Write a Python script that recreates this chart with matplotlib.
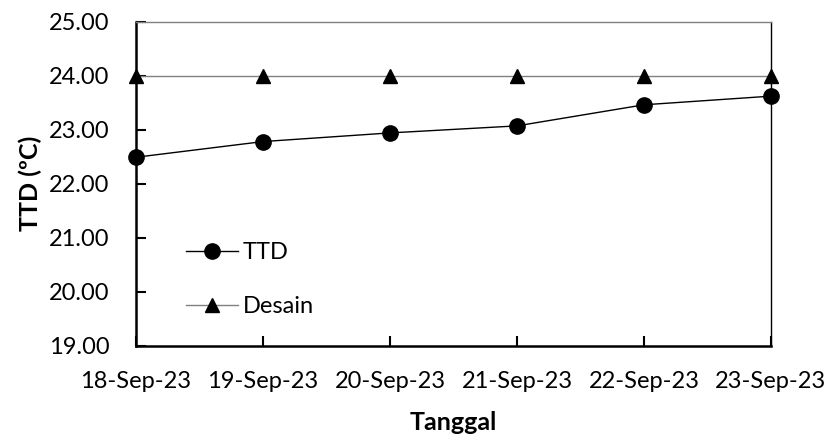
import matplotlib
matplotlib.use("Agg")
import matplotlib.pyplot as plt

dates = ["18-Sep-23", "19-Sep-23", "20-Sep-23", "21-Sep-23", "22-Sep-23", "23-Sep-23"]
ttd = [22.49, 22.78, 22.94, 23.07, 23.46, 23.62]
desain = [24.00, 24.00, 24.00, 24.00, 24.00, 24.00]
yticks = [19, 20, 21, 22, 23, 24, 25]

plt.rcParams['font.family'] = ['Lato', 'DejaVu Sans']

fig = plt.figure(figsize=(8.29, 4.38), dpi=100)
ax = fig.add_axes([136/829, 1-346/438, (771-136)/829, (346-21.5)/438])

x = list(range(len(dates)))
ax.plot(x, desain, color='#808080', lw=1.0, marker='^', markersize=10,
        markerfacecolor='black', markeredgecolor='black', label='Desain', clip_on=False, zorder=3)
ax.plot(x, ttd, color='black', lw=1.0, marker='o', markersize=11,
        markerfacecolor='black', markeredgecolor='black', label='TTD', clip_on=False, zorder=4)

ax.set_xlim(0, len(dates)-1)
ax.set_ylim(19, 25)
ax.set_xticks(x)
ax.set_xticklabels(dates)
ax.set_yticks(yticks)
ax.set_yticklabels([f"{v:.2f}" for v in yticks])
ax.tick_params(axis='both', direction='in', length=7, width=1.5, labelsize=17, colors='black')
ax.tick_params(axis='x', pad=18)
ax.tick_params(axis='y', pad=19)

for s in ['left', 'bottom']:
    ax.spines[s].set_linewidth(1.8)
    ax.spines[s].set_color('black')
ax.spines['top'].set_linewidth(1.0)
ax.spines['top'].set_color('#808080')
ax.spines['right'].set_linewidth(1.0)
ax.spines['right'].set_color('black')

ax.set_xlabel("Tanggal", fontsize=18, fontweight='bold', labelpad=14)
ax.set_ylabel("TTD (ºC)", fontsize=18, fontweight='bold', labelpad=5)

h, l = ax.get_legend_handles_labels()
leg = ax.legend(h[::-1], l[::-1], loc='upper left', bbox_to_anchor=(0.045, 0.385),
                frameon=False, fontsize=17, labelspacing=1.4, handlelength=2.2,
                handletextpad=0.2)

fig.savefig("out.png", dpi=100)
